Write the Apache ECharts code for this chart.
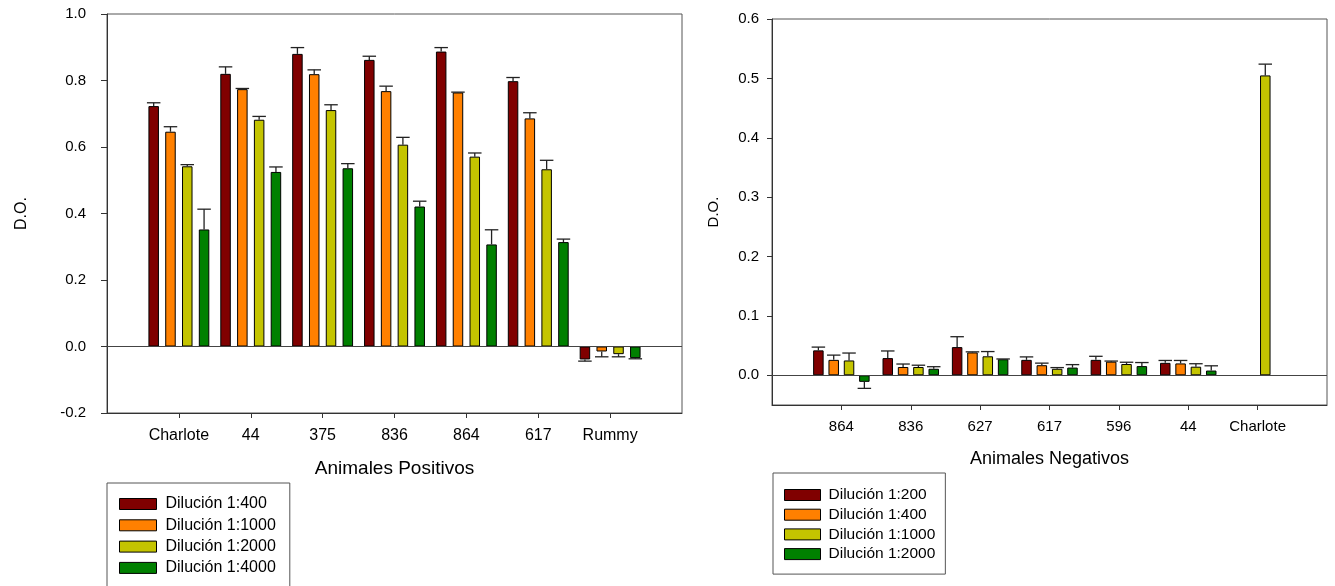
<!DOCTYPE html>
<html>
<head>
<meta charset="utf-8">
<script src="https://cdn.jsdelivr.net/npm/echarts@6/dist/echarts.min.js"></script>
<style>
html,body{margin:0;padding:0;background:#fff;}
#chart{width:1335px;height:586px;}
</style>
</head>
<body>
<div id="chart"></div>
<script>
// ---------- Left chart: Animales Positivos ----------
const posCategories = ['Charlote', '44', '375', '836', '864', '617', 'Rummy'];
const posNames = ['Dilución 1:400', 'Dilución 1:1000', 'Dilución 1:2000', 'Dilución 1:4000'];
const pos400  = [0.723, 0.820, 0.880, 0.862, 0.887, 0.798, -0.039];
const pos1000 = [0.646, 0.774, 0.819, 0.768, 0.764, 0.686, -0.015];
const pos2000 = [0.542, 0.682, 0.711, 0.607, 0.571, 0.533, -0.023];
const pos4000 = [0.352, 0.525, 0.536, 0.421, 0.307, 0.314, -0.035];
const pos400Err  = [0.010, 0.021, 0.019, 0.011, 0.012, 0.011, 0.005];
const pos1000Err = [0.015, 0.002, 0.013, 0.015, 0.001, 0.017, 0.016];
const pos2000Err = [0.005, 0.010, 0.016, 0.022, 0.011, 0.027, 0.008];
const pos4000Err = [0.061, 0.015, 0.014, 0.016, 0.044, 0.009, 0.002];
const posTicks = [-0.2, 0.0, 0.2, 0.4, 0.6, 0.8, 1.0];

// ---------- Right chart: Animales Negativos ----------
const negCategories = ['864', '836', '627', '617', '596', '44', 'Charlote'];
const negNames = ['Dilución 1:200', 'Dilución 1:400', 'Dilución 1:1000', 'Dilución 1:2000'];
const neg200  = [0.042, 0.029, 0.0475, 0.026, 0.026, 0.021, null];
const neg400  = [0.026, 0.014, 0.0385, 0.017, 0.023, 0.020, null];
const neg1000 = [0.025, 0.014, 0.032, 0.011, 0.019, 0.0145, 0.505];
const neg2000 = [-0.011, 0.011, 0.027, 0.013, 0.0155, 0.008, null];
const neg200Err  = [0.0055, 0.012, 0.0175, 0.005, 0.006, 0.004, null];
const neg400Err  = [0.008, 0.005, 0.001, 0.0035, 0.001, 0.005, null];
const neg1000Err = [0.0125, 0.003, 0.008, 0.002, 0.003, 0.005, 0.019];
const neg2000Err = [0.011, 0.0035, 0.0005, 0.005, 0.006, 0.008, null];
const negTicks = [0.0, 0.1, 0.2, 0.3, 0.4, 0.5, 0.6];

const colors = ['#800000', '#FF8000', '#C4C400', '#008000'];
const FONT = 'Liberation Sans, Arial, sans-serif';

// padded category lists (empty slot at each end, boundaryGap false)
const posCats = [''].concat(posCategories, ['']);
const negCats = [''].concat(negCategories, ['']);
const pad = arr => [null].concat(arr, [null]);

function errData(groups, errs) {
  const out = [];
  groups.forEach((vals, s) => {
    vals.forEach((v, i) => {
      const e = errs[s][i];
      if (v == null || e == null) return;
      const end = v + (v < 0 ? -e : e);
      out.push([i + 1, s, v, end]);
    });
  });
  return out;
}

function errRender(barWidth, barGap) {
  return function (params, api) {
    const cat = api.value(0), s = api.value(1), v = api.value(2), end = api.value(3);
    const layout = api.barLayout({ count: 4, barWidth: barWidth, barGap: barGap });
    const p0 = api.coord([cat, v]);
    const p1 = api.coord([cat, end]);
    const x = p0[0] + layout[s].offsetCenter;
    const hw = barWidth / 2 + 1.5;
    const style = { stroke: '#222', lineWidth: 1.3 };
    return {
      type: 'group',
      children: [
        { type: 'line', shape: { x1: x, y1: p0[1], x2: x, y2: p1[1] }, style: style },
        { type: 'line', shape: { x1: x - hw, y1: p1[1], x2: x + hw, y2: p1[1] }, style: style }
      ]
    };
  };
}

const posGroups = [pos400, pos1000, pos2000, pos4000];
const posErrs = [pos400Err, pos1000Err, pos2000Err, pos4000Err];
const negGroups = [neg200, neg400, neg1000, neg2000];
const negErrs = [neg200Err, neg400Err, neg1000Err, neg2000Err];

const LBW = 10.5, LGAP = '60%';
const RBW = 10.5, RGAP = '46%';

const zeroLine = {
  silent: true, symbol: ['none', 'none'],
  label: { show: false },
  lineStyle: { color: '#444', type: 'solid', width: 1 },
  emphasis: { disabled: true },
  data: [{ yAxis: 0 }]
};

const series = [];
posGroups.forEach((vals, s) => {
  series.push({
    type: 'bar', name: posNames[s], xAxisIndex: 0, yAxisIndex: 0,
    data: pad(vals), barWidth: LBW, barGap: LGAP,
    itemStyle: { color: colors[s], borderColor: '#000', borderWidth: 1 },
    animation: false,
    markLine: s === 0 ? zeroLine : undefined
  });
});
series.push({
  type: 'custom', xAxisIndex: 0, yAxisIndex: 0, silent: true,
  data: errData(posGroups, posErrs),
  encode: { x: 0, y: [2, 3] },
  renderItem: errRender(LBW, LGAP), z: 3, animation: false
});
negGroups.forEach((vals, s) => {
  series.push({
    type: 'bar', name: negNames[s], xAxisIndex: 1, yAxisIndex: 1,
    data: pad(vals), barWidth: RBW, barGap: RGAP,
    itemStyle: { color: colors[s], borderColor: '#000', borderWidth: 1 },
    animation: false,
    markLine: s === 0 ? zeroLine : undefined
  });
});
series.push({
  type: 'custom', xAxisIndex: 1, yAxisIndex: 1, silent: true,
  data: errData(negGroups, negErrs),
  encode: { x: 0, y: [2, 3] },
  renderItem: errRender(RBW, RGAP), z: 3, animation: false
});

const hideEnds = n => (idx) => idx !== 0 && idx !== n - 1;

const option = {
  animation: false,
  textStyle: { fontFamily: FONT },
  grid: [
    { left: 107, top: 14, width: 575, height: 399, show: true, borderColor: '#555', borderWidth: 1, backgroundColor: '#fff' },
    { left: 772, top: 19, width: 555, height: 386, show: true, borderColor: '#555', borderWidth: 1, backgroundColor: '#fff' }
  ],
  xAxis: [
    {
      type: 'category', gridIndex: 0, data: posCats, boundaryGap: false,
      name: 'Animales Positivos', nameLocation: 'middle', nameGap: 46,
      nameTextStyle: { fontSize: 19, color: '#000', fontFamily: FONT },
      axisLine: { onZero: false, lineStyle: { color: '#333', width: 1 } },
      axisTick: { show: true, length: 5, interval: hideEnds(posCats.length), lineStyle: { color: '#333' } },
      axisLabel: { interval: 0, fontSize: 16, color: '#000', margin: 15, fontFamily: FONT },
      splitLine: { show: false }
    },
    {
      type: 'category', gridIndex: 1, data: negCats, boundaryGap: false,
      name: 'Animales Negativos', nameLocation: 'middle', nameGap: 45,
      nameTextStyle: { fontSize: 18, color: '#000', fontFamily: FONT },
      axisLine: { onZero: false, lineStyle: { color: '#333', width: 1 } },
      axisTick: { show: true, length: 5, interval: hideEnds(negCats.length), lineStyle: { color: '#333' } },
      axisLabel: { interval: 0, fontSize: 15, color: '#000', margin: 14, fontFamily: FONT },
      splitLine: { show: false }
    }
  ],
  yAxis: [
    {
      type: 'value', gridIndex: 0, min: posTicks[0], max: posTicks[posTicks.length - 1], interval: 0.2,
      name: 'D.O.', nameLocation: 'middle', nameGap: 77, nameRotate: 90,
      nameTextStyle: { fontSize: 16, color: '#000', fontFamily: FONT },
      axisLine: { show: true, lineStyle: { color: '#333', width: 1 } },
      axisTick: { show: true, length: 6, lineStyle: { color: '#333' } },
      axisLabel: { fontSize: 15, color: '#000', margin: 21, fontFamily: FONT, formatter: v => v.toFixed(1) },
      splitLine: { show: false }
    },
    {
      type: 'value', gridIndex: 1, min: -0.05, max: negTicks[negTicks.length - 1], splitNumber: 6,
      name: 'D.O.', nameLocation: 'middle', nameGap: 51, nameRotate: 90,
      nameTextStyle: { fontSize: 15, color: '#000', fontFamily: FONT },
      axisLine: { show: true, lineStyle: { color: '#333', width: 1 } },
      axisTick: { show: true, length: 5, lineStyle: { color: '#333' } },
      axisLabel: { fontSize: 15, color: '#000', margin: 13, fontFamily: FONT, showMinLabel: false,
        formatter: v => (v < -0.001 ? '' : v.toFixed(1)) },
      splitLine: { show: false }
    }
  ],
  legend: [
    {
      orient: 'vertical', left: 107, top: 483, height: 140,
      backgroundColor: '#fff', borderColor: '#555', borderWidth: 1, borderRadius: 0,
      padding: [13, 14, 13, 12], itemWidth: 37, itemHeight: 11, itemGap: 5.3,
      icon: 'rect', selectedMode: false,
      textStyle: { fontSize: 16, color: '#000', fontFamily: FONT, padding: [0, 0, 0, 4] },
      data: posNames.map((n, s) => ({ name: n, itemStyle: { color: colors[s], borderColor: '#000', borderWidth: 1 } }))
    },
    {
      orient: 'vertical', left: 773, top: 473,
      backgroundColor: '#fff', borderColor: '#555', borderWidth: 1, borderRadius: 0,
      padding: [14, 10, 12, 11], itemWidth: 36, itemHeight: 11, itemGap: 3.7,
      icon: 'rect', selectedMode: false,
      textStyle: { fontSize: 15.5, color: '#000', fontFamily: FONT, padding: [0, 0, 0, 3] },
      data: negNames.map((n, s) => ({ name: n, itemStyle: { color: colors[s], borderColor: '#000', borderWidth: 1 } }))
    }
  ],
  series: series
};

const chart = echarts.init(document.getElementById('chart'), null, { renderer: 'canvas' });
chart.setOption(option);
</script>
</body>
</html>
